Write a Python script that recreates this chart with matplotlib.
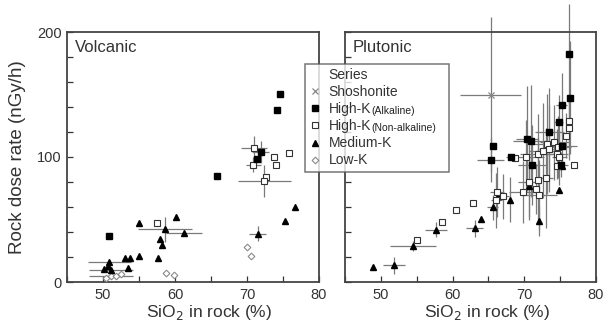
import numpy as np
import matplotlib
matplotlib.use("Agg")
import matplotlib.pyplot as plt
from matplotlib.lines import Line2D

plt.rcParams['font.family'] = ['Liberation Sans', 'DejaVu Sans']

# ---------------- Volcanic data (SiO2 %, dose nGy/h, xerr, yerr) ----------------
v_hka_x = [50.9, 65.8, 74.6, 74.2, 71.9, 71.4]
v_hka_y = [36.5, 84.8, 150.4, 138.0, 104.0, 98.4]
v_hka_xe = [0, 0, 0, 0, 1.2, 0]
v_hka_ye = [0, 0, 0, 0, 9, 0]

v_hkn_x = [57.5, 71.0, 70.9, 73.8, 74.0, 75.8, 72.6, 72.4]
v_hkn_y = [47.5, 107.0, 94.0, 100.0, 93.6, 103.0, 84.0, 81.0]
v_hkn_xe = [0, 1.8, 1.0, 0, 0, 0, 0, 3.7]
v_hkn_ye = [0, 10, 6, 0, 0, 0, 0, 13]

v_mk_x = [55.0, 60.1, 58.6, 61.2, 57.9, 58.2, 57.6, 55.0, 53.1, 53.8, 53.5,
          50.9, 50.7, 50.2, 51.1, 71.5, 75.3, 76.6]
v_mk_y = [47.2, 51.7, 42.4, 39.2, 34.4, 30.0, 19.5, 21.0, 19.0, 19.0, 11.0,
          16.0, 13.0, 10.7, 9.3, 38.7, 48.8, 60.0]
v_mk_xe = [0, 0, 3.8, 2.5, 0, 0, 0, 0, 0, 0, 0, 3.0, 0, 0, 3.1, 1.2, 0, 0]
v_mk_ye = [0, 0, 10, 0, 0, 0, 0, 0, 0, 0, 0, 0, 0, 0, 0, 6, 0, 0]

v_lk_x = [58.8, 59.9, 70.0, 70.6, 50.4, 51.1, 51.8, 52.5]
v_lk_y = [7.2, 5.6, 28.0, 21.0, 3.2, 4.5, 5.0, 6.7]
v_lk_xe = [0, 0, 0, 0, 0, 3.0, 0, 0]
v_lk_ye = [0, 0, 0, 0, 0, 0, 0, 0]

# ---------------- Plutonic data ----------------
p_sho_x = [65.3]
p_sho_y = [150.0]
p_sho_xe = [4.3]
p_sho_ye = [62]

p_hka_x = [76.2, 76.4, 75.2, 74.8, 73.5, 70.4, 70.9, 75.3, 65.7, 65.3, 68.2, 71.1, 75.1]
p_hka_y = [182.7, 147.5, 142.0, 128.0, 120.0, 114.7, 112.8, 108.8, 108.8, 97.9, 100.0, 94.0, 94.0]
p_hka_xe = [0.3, 0, 0.8, 0.6, 2.0, 1.5, 2.5, 2.0, 0, 1.9, 0.8, 2.0, 1.0]
p_hka_ye = [40, 45, 25, 22, 35, 42, 45, 15, 0, 18, 0, 32, 10]

p_hkn_x = [55.0, 58.5, 60.5, 62.8, 66.2, 66.1, 67.0, 68.7, 70.3, 69.8, 70.6, 71.9,
           73.0, 71.7, 72.1, 71.9, 72.6, 73.1, 73.5, 74.2, 74.7, 74.6, 74.9, 74.6,
           76.3, 76.2, 75.8, 77.0]
p_hkn_y = [33.3, 48.0, 57.9, 63.5, 72.0, 65.3, 68.5, 99.0, 100.0, 72.0, 80.0, 81.3,
           83.0, 74.7, 70.0, 102.7, 105.0, 110.7, 106.7, 112.0, 108.0, 102.7, 100.0, 92.8,
           129.0, 123.0, 117.0, 94.0]
p_hkn_xe = [0, 0, 0, 0, 1.0, 0.8, 0.8, 0, 2.5, 2.0, 1.5, 0, 1.0, 0, 2.5, 2.5, 2.0, 2.5,
            1.5, 2.0, 1.8, 1.5, 1.0, 0, 0, 0, 0.5, 0]
p_hkn_ye = [0, 0, 0, 0, 20, 22, 18, 0, 30, 25, 30, 35, 40, 20, 28, 32, 38, 40,
            35, 30, 25, 20, 22, 0, 20, 25, 18, 0]

p_mk_x = [48.9, 51.8, 54.5, 57.7, 63.1, 63.9, 65.6, 66.3, 68.0, 70.6, 72.1, 74.8, 75.2]
p_mk_y = [12.0, 13.3, 28.5, 42.0, 43.0, 50.7, 60.0, 68.8, 66.0, 77.0, 48.8, 74.0, 93.0]
p_mk_xe = [0, 1.5, 3.2, 1.5, 1.2, 0, 0.8, 0, 0, 0, 0, 0, 0]
p_mk_ye = [0, 7, 4, 6, 7, 0, 10, 0, 18, 25, 12, 0, 0]

ecol = '#7a7a7a'


def draw_series(ax, x, y, xe, ye, **style):
    x = np.array(x)
    y = np.array(y)
    xe = np.array(xe)
    ye = np.array(ye)
    m = (xe > 0) | (ye > 0)
    if m.any():
        eb = ax.errorbar(x[m], y[m], xerr=xe[m], yerr=ye[m], fmt='none',
                         ecolor=ecol, elinewidth=0.9, capsize=0, zorder=2)
        for c in eb.get_children():
            c.set_clip_on(False)
    ax.plot(x, y, linestyle='none', zorder=3, clip_on=False, **style)


st_sho = dict(marker='x', color='#888888', markersize=5, markeredgewidth=0.9)
st_hka = dict(marker='s', color='black', markersize=4.8)
st_hkn = dict(marker='s', markerfacecolor='white', markeredgecolor='#333333',
              markersize=4.8, markeredgewidth=0.8)
st_mk = dict(marker='^', color='black', markersize=4.6)
st_lk = dict(marker='D', markerfacecolor='white', markeredgecolor='#8a8a8a',
             markersize=3.4, markeredgewidth=0.8)

fig = plt.figure(figsize=(6.03, 3.29), dpi=100)
ax1 = fig.add_axes([67 / 603, 47 / 329, 252 / 603, 250 / 329])
ax2 = fig.add_axes([345 / 603, 47 / 329, 251 / 603, 250 / 329])

draw_series(ax1, v_lk_x, v_lk_y, v_lk_xe, v_lk_ye, **st_lk)
draw_series(ax1, v_mk_x, v_mk_y, v_mk_xe, v_mk_ye, **st_mk)
draw_series(ax1, v_hkn_x, v_hkn_y, v_hkn_xe, v_hkn_ye, **st_hkn)
draw_series(ax1, v_hka_x, v_hka_y, v_hka_xe, v_hka_ye, **st_hka)

draw_series(ax2, p_sho_x, p_sho_y, p_sho_xe, p_sho_ye, **st_sho)
draw_series(ax2, p_mk_x, p_mk_y, p_mk_xe, p_mk_ye, **st_mk)
draw_series(ax2, p_hkn_x, p_hkn_y, p_hkn_xe, p_hkn_ye, **st_hkn)
draw_series(ax2, p_hka_x, p_hka_y, p_hka_xe, p_hka_ye, **st_hka)

for ax, name in [(ax1, 'Volcanic'), (ax2, 'Plutonic')]:
    ax.set_xlim(45, 80)
    ax.set_ylim(0, 200)
    ax.set_xticks([50, 60, 70, 80])
    ax.set_xticks(np.arange(45, 81, 5), minor=True)
    ax.set_yticks([0, 100, 200])
    ax.set_yticks(np.arange(0, 201, 20), minor=True)
    ax.tick_params(which='both', direction='in', length=4, width=0.9,
                   colors='#333333', labelsize=10.5, labelcolor='#333333', pad=4)
    for s in ax.spines.values():
        s.set_color('#444444')
        s.set_linewidth(1.3)
    ax.set_xlabel('SiO$_2$ in rock (%)', fontsize=12.5, color='#333333', labelpad=2)
    ax.xaxis.set_label_coords(0.565, -0.085)
    ax.text(0.03, 0.97, name, transform=ax.transAxes, ha='left', va='top',
            fontsize=12, color='#333333')

ax2.set_yticklabels([])
ax1.set_ylabel('Rock dose rate (nGy/h)', fontsize=13.5, color='#333333', labelpad=8)

# legend
handles = [Line2D([], [], linestyle='none'),
           Line2D([], [], linestyle='none', **st_sho),
           Line2D([], [], linestyle='none', **dict(st_hka, markersize=4)),
           Line2D([], [], linestyle='none', **dict(st_hkn, markersize=4)),
           Line2D([], [], linestyle='none', **dict(st_mk, markersize=4)),
           Line2D([], [], linestyle='none', **st_lk)]
labels = ['Series', 'Shoshonite', 'High-K', 'High-K', 'Medium-K', 'Low-K']
leg = fig.legend(handles, labels, loc='upper left',
                 bbox_to_anchor=(305 / 603, 1 - 174 / 329, 144 / 603, 110 / 329),
                 mode='expand', fontsize=10, frameon=True, fancybox=False,
                 handlelength=0.8, handletextpad=0.6, borderpad=0.3,
                 labelspacing=0.22, borderaxespad=0)
leg.set_zorder(5)
leg.get_frame().set_edgecolor('#555555')
leg.get_frame().set_linewidth(1.1)
for t in leg.get_texts():
    t.set_color('#333333')

fig.canvas.draw()
rend = fig.canvas.get_renderer()
W, H = fig.bbox.width, fig.bbox.height
for idx, small in [(2, '(Alkaline)'), (3, '(Non-alkaline)')]:
    bb = leg.get_texts()[idx].get_window_extent(rend)
    fig.text(bb.x1 / W + 0.001, (bb.y0 + bb.y1) / 2 / H - 0.004, small,
             fontsize=7.5, ha='left', va='center', color='#222222', zorder=10)

fig.savefig('out.png', dpi=100)
